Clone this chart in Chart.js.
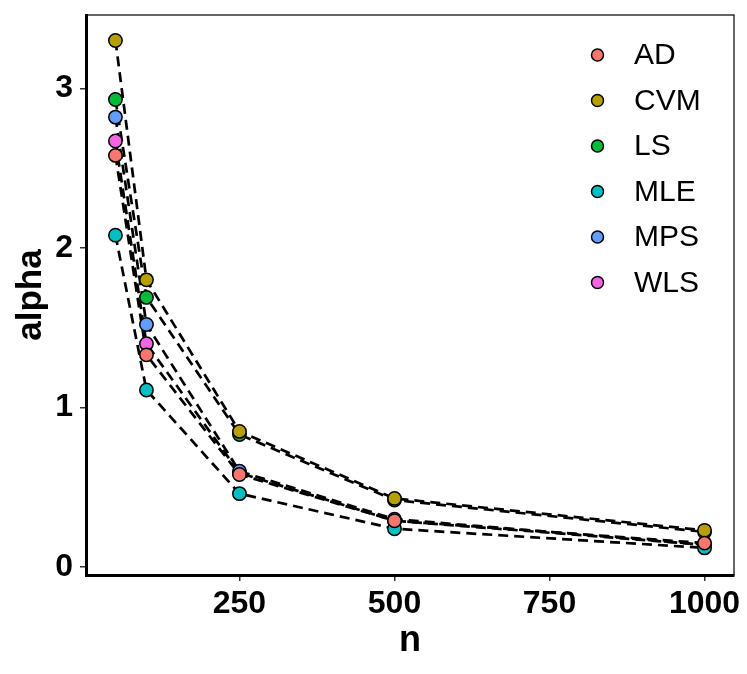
<!DOCTYPE html>
<html>
<head>
<meta charset="utf-8">
<script src="https://cdn.jsdelivr.net/npm/chart.js@4/dist/chart.umd.min.js"></script>
<style>
  html, body { margin: 0; padding: 0; background: #ffffff; }
  #wrap { width: 747px; height: 674px; position: relative; }
</style>
</head>
<body>
<div id="wrap"><canvas id="c" width="747" height="674"></canvas></div>
<script>
// ---- data ----
const nValues = [50, 100, 250, 500, 1000];
const methods = ['AD', 'CVM', 'LS', 'MLE', 'MPS', 'WLS'];
const alphaAD  = [2.58, 1.33, 0.58, 0.29, 0.15];
const alphaCVM = [3.30, 1.80, 0.85, 0.43, 0.23];
const alphaLS  = [2.93, 1.69, 0.83, 0.42, 0.22];
const alphaMLE = [2.08, 1.11, 0.46, 0.24, 0.12];
const alphaMPS = [2.82, 1.52, 0.60, 0.30, 0.14];
const alphaWLS = [2.67, 1.40, 0.59, 0.29, 0.14];
const xTickValues = [250, 500, 750, 1000];
const yTickValues = [0, 1, 2, 3];
const xTitle = 'n';
const yTitle = 'alpha';

// ---- styles ----
const palette = ['#F8766D', '#B79F00', '#00BA38', '#00BFC4', '#619CFF', '#F564E3'];
const FONT = "'Liberation Sans', Arial, Helvetica, sans-serif";

const seriesValues = [alphaAD, alphaCVM, alphaLS, alphaMLE, alphaMPS, alphaWLS];
const toPoints = vals => vals.map((v, i) => ({ x: nValues[i], y: v }));

// point datasets first (drawn last => on top), line datasets after (drawn first => behind)
const pointSets = methods.map((m, k) => ({
  label: m,
  data: toPoints(seriesValues[k]),
  showLine: false,
  pointRadius: 6.7,
  pointHoverRadius: 6.7,
  pointBackgroundColor: palette[k],
  pointBorderColor: '#000000',
  pointBorderWidth: 1.5,
  clip: false
}));
const lineSets = methods.map((m, k) => ({
  label: m + '_line',
  data: toPoints(seriesValues[k]),
  showLine: true,
  pointRadius: 0,
  borderColor: '#000000',
  borderWidth: 2.7,
  borderDash: [10, 6],
  fill: false,
  clip: false
}));

const frameAndLegend = {
  id: 'frameAndLegend',
  beforeDatasetsDraw(chart) {
    const { ctx, chartArea: a } = chart;
    ctx.save();
    ctx.strokeStyle = '#000000';
    ctx.lineWidth = 1.2;
    ctx.strokeRect(a.left, a.top, a.right - a.left, a.bottom - a.top);
    ctx.restore();
  },
  afterDatasetsDraw(chart) {
    const { ctx } = chart;
    ctx.save();
    const x0 = 597.5, y0 = 55, dy = 45.5;
    methods.forEach((m, k) => {
      const y = y0 + k * dy;
      ctx.beginPath();
      ctx.arc(x0, y, 6, 0, Math.PI * 2);
      ctx.fillStyle = palette[k];
      ctx.fill();
      ctx.lineWidth = 1.5;
      ctx.strokeStyle = '#000000';
      ctx.stroke();
      ctx.fillStyle = '#000000';
      ctx.font = '30px ' + FONT;
      ctx.textAlign = 'left';
      ctx.textBaseline = 'middle';
      ctx.fillText(m, 634, y + 1);
    });
    ctx.restore();
  }
};

new Chart(document.getElementById('c'), {
  type: 'scatter',
  data: { datasets: pointSets.concat(lineSets) },
  plugins: [frameAndLegend],
  options: {
    responsive: false,
    animation: false,
    events: [],
    layout: { padding: { top: 15, right: 13, left: 0, bottom: 0 } },
    plugins: { legend: { display: false }, tooltip: { enabled: false } },
    scales: {
      x: {
        type: 'linear',
        min: 2.5,
        max: 1047.5,
        afterBuildTicks: s => { s.ticks = xTickValues.map(v => ({ value: v })); },
        afterFit: s => { s.height = 99; s.paddingLeft = 0; s.paddingRight = 0; },
        grid: { drawOnChartArea: false, drawTicks: true, tickLength: 6, color: '#333333', lineWidth: 1.5 },
        border: { display: true, color: '#000000', width: 3 },
        ticks: { color: '#000000', padding: 4, maxRotation: 0, callback: v => String(v), font: { family: FONT, size: 32, weight: 'bold' } },
        title: { display: true, text: xTitle, color: '#000000', padding: { top: 11, bottom: 11 }, font: { family: FONT, size: 36, weight: 'bold' } }
      },
      y: {
        type: 'linear',
        min: -0.05,
        max: 3.46,
        afterBuildTicks: s => { s.ticks = yTickValues.map(v => ({ value: v })); },
        afterFit: s => { s.width = 86; s.paddingTop = 0; s.paddingBottom = 0; },
        grid: { drawOnChartArea: false, drawTicks: true, tickLength: 6, color: '#333333', lineWidth: 1.5 },
        border: { display: true, color: '#000000', width: 3 },
        ticks: { color: '#000000', padding: 7, callback: v => String(v), font: { family: FONT, size: 32, weight: 'bold' } },
        title: { display: true, text: yTitle, color: '#000000', padding: { top: 10, bottom: 0 }, font: { family: FONT, size: 35, weight: 'bold' } }
      }
    }
  }
});
</script>
</body>
</html>
